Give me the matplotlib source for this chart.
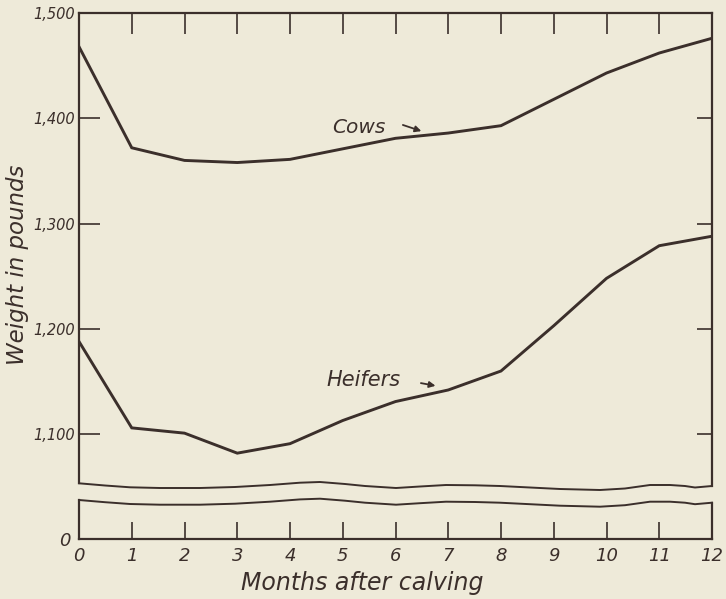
import numpy as np
import matplotlib.pyplot as plt

# ---- data (pounds, by month after calving) ----
months = [0, 1, 2, 3, 4, 5, 6, 7, 8, 9, 10, 11, 12]
cows = [1468, 1372, 1360, 1358, 1361, 1371, 1381, 1386, 1393, 1418, 1443, 1462, 1476]
heifers = [1188, 1106, 1101, 1082, 1091, 1113, 1131, 1142, 1160, 1203, 1248, 1279, 1288]
y_ticks = [1100, 1200, 1300, 1400, 1500]
y_labels = ['1,100', '1,200', '1,300', '1,400', '1,500']
x_labels = ['0', '1', '2', '3', '4', '5', '6', '7', '8', '9', '10', '11', '12']

bg = '#eeead9'
ink = '#3b2f2b'
W, H = 726, 599

plt.rcParams['font.family'] = ['DejaVu Sans']
fig = plt.figure(figsize=(W / 100, H / 100), dpi=100, facecolor=bg)

def box(l, t, r, b):
    # pixel box -> figure fraction rect
    return [l / W, 1 - b / H, (r - l) / W, (b - t) / H]

# upper panel (1,100 - 1,500)
ax = fig.add_axes(box(79, 13, 712, 490))
ax.set_facecolor('none')
ax.set_xlim(0, 12)
ax.set_ylim(1500 - 477 / 1.053, 1500)
for s in ['left', 'right', 'bottom']:
    ax.spines[s].set_visible(False)
ax.spines['top'].set_linewidth(1.6)
ax.spines['top'].set_color(ink)
ax.plot(months, cows, color=ink, lw=2.1, solid_joinstyle='miter')
ax.plot(months, heifers, color=ink, lw=2.1, solid_joinstyle='miter')
ax.set_xticks(months[1:-1])
ax.tick_params(axis='x', top=True, bottom=False, labelbottom=False,
               direction='in', length=15, width=1.2, color=ink)
ax.set_yticks(y_ticks)
ax.set_yticklabels(y_labels, fontsize=10.5, style='italic', color=ink)
ax.tick_params(axis='y', left=True, direction='in', length=15,
               width=1.2, color=ink, pad=3)

# shorter inward ticks on the right side
sec = ax.secondary_yaxis('right')
sec.set_yticks(y_ticks[:-1])
sec.tick_params(direction='in', length=11, width=1.2, color=ink, labelright=False)
sec.spines['right'].set_visible(False)

ax.text(4.79, 1391.5, 'Cows', fontsize=14.5, style='italic', color=ink,
        va='center', ha='left')
ax.annotate('', xy=(6.54, 1387), xytext=(6.09, 1394.5),
            arrowprops=dict(arrowstyle='-|>', color=ink, lw=1.3,
                            mutation_scale=9))
ax.text(4.70, 1151, 'Heifers', fontsize=15, style='italic', color=ink,
        va='center', ha='left')
ax.annotate('', xy=(6.81, 1145.5), xytext=(6.43, 1149),
            arrowprops=dict(arrowstyle='-|>', color=ink, lw=1.3,
                            mutation_scale=9))

# lower stub panel (0)
ax2 = fig.add_axes(box(79, 505, 712, 539))
ax2.set_facecolor('none')
ax2.set_xlim(0, 12)
ax2.set_ylim(0, 1)
for s in ['left', 'right', 'top']:
    ax2.spines[s].set_visible(False)
ax2.spines['bottom'].set_linewidth(1.6)
ax2.spines['bottom'].set_color(ink)
ax2.set_xticks(months)
ax2.set_xticklabels(x_labels, fontsize=13, style='italic', color=ink)
ax2.tick_params(axis='x', direction='in', length=12, width=1.2, color=ink, pad=6)
ax2.set_yticks([0])
ax2.set_yticklabels(['0'], fontsize=13, style='italic', color=ink)
ax2.tick_params(axis='y', length=0, pad=6)

# frame sides and the axis-break waves, in pixel coordinates
fr = fig.add_axes([0, 0, 1, 1])
fr.set_xlim(0, W)
fr.set_ylim(H, 0)
fr.axis('off')
wave_x = np.array([79, 105, 130, 160, 200, 235, 270, 300, 320, 345, 365, 396,
                   420, 446, 475, 500, 530, 560, 600, 625, 650, 670, 685, 695, 712])
wave_y = np.array([483.3, 485.5, 487.3, 488, 488, 487, 485, 482.7, 482, 484, 486, 488,
                   486.5, 485, 485.3, 486, 487.5, 489, 490, 488.5, 485, 485, 486, 487.5, 486])
fr.plot(wave_x, wave_y, color=ink, lw=1.4)
fr.plot(wave_x, wave_y + 16.7, color=ink, lw=1.4)
fr.plot([79, 79], [13, wave_y[0]], color=ink, lw=1.6)
fr.plot([712, 712], [13, wave_y[-1]], color=ink, lw=1.6)
fr.plot([79, 79], [wave_y[0] + 16.7, 539], color=ink, lw=1.6)
fr.plot([712, 712], [wave_y[-1] + 16.7, 539], color=ink, lw=1.6)

fr.text(18, 265, 'Weight in pounds', rotation=90, fontsize=16.5, style='italic',
        color=ink, ha='center', va='center')
fr.text(362, 583, 'Months after calving', fontsize=17, style='italic',
        color=ink, ha='center', va='center')

fig.savefig('out.png', dpi=100, facecolor=bg)
